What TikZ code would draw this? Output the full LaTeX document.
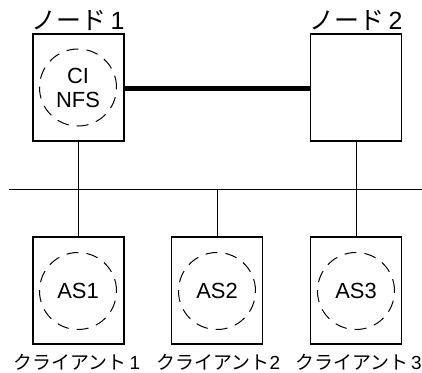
\documentclass[tikz,border=0pt]{standalone}
\usepackage{fontspec}
\setmainfont{Liberation Sans}
\newfontfamily\jp{Noto Sans CJK JP}
\begin{document}
\begin{tikzpicture}[x=1bp,y=-1bp,
  hostbox/.style={draw,line width=1.2bp,minimum width=91bp,minimum height=107bp,inner sep=0pt},
  svc/.style={draw,dash pattern=on 12bp off 8bp,line width=1bp,circle,minimum size=77bp,inner sep=0pt,align=center,font=\fontsize{22}{24}\selectfont},
  wire/.style={line width=1bp},
  trunk/.style={line width=5bp},
  nodelbl/.style={font=\fontsize{25}{28}\selectfont,inner sep=0pt},
  clientlbl/.style={font=\fontsize{19}{21}\selectfont,inner sep=0pt}]
\useasboundingbox (0,0) rectangle (422,373);
% cluster nodes
\node[hostbox] (n1) at (78.5,87.5) {};
\node[hostbox] (n2) at (356,87.5) {};
\node[svc] (s1) at (78,87.5) {CI\\NFS};
\node[nodelbl,anchor=base] (l1) at (78,29) {{\jp ノード}\,1};
\node[nodelbl,anchor=base] (l2) at (356,29) {{\jp ノード}\,2};
\draw[trunk] (n1.east |- 0,88) -- (n2.west |- 0,88);
% public network
\coordinate (busL) at (9,189);
\coordinate (busR) at (422,189);
\draw[wire] (busL) -- (busR);
% clients
\node[hostbox] (c1) at (78.5,290.5) {};
\node[hostbox] (c2) at (217,290.5) {};
\node[hostbox] (c3) at (356,290.5) {};
\node[svc] (a1) at (78,291) {AS1};
\node[svc] (a2) at (217,291) {AS2};
\node[svc] (a3) at (356,291) {AS3};
\node[clientlbl,anchor=base] (k1) at (77,369) {{\jp クライアント}\,1};
\node[clientlbl,anchor=base] (k2) at (218.5,369) {{\jp クライアント}2};
\node[clientlbl,anchor=base] (k3) at (358.5,369) {{\jp クライアント}\,3};
% drops onto the network
\draw[wire] (n1.south) -- (n1.south |- busL);
\draw[wire] (n2.south) -- (n2.south |- busL);
\draw[wire] (c1.north) -- (c1.north |- busL);
\draw[wire] (c2.north) -- (c2.north |- busL);
\draw[wire] (c3.north) -- (c3.north |- busL);
\end{tikzpicture}
\end{document}
